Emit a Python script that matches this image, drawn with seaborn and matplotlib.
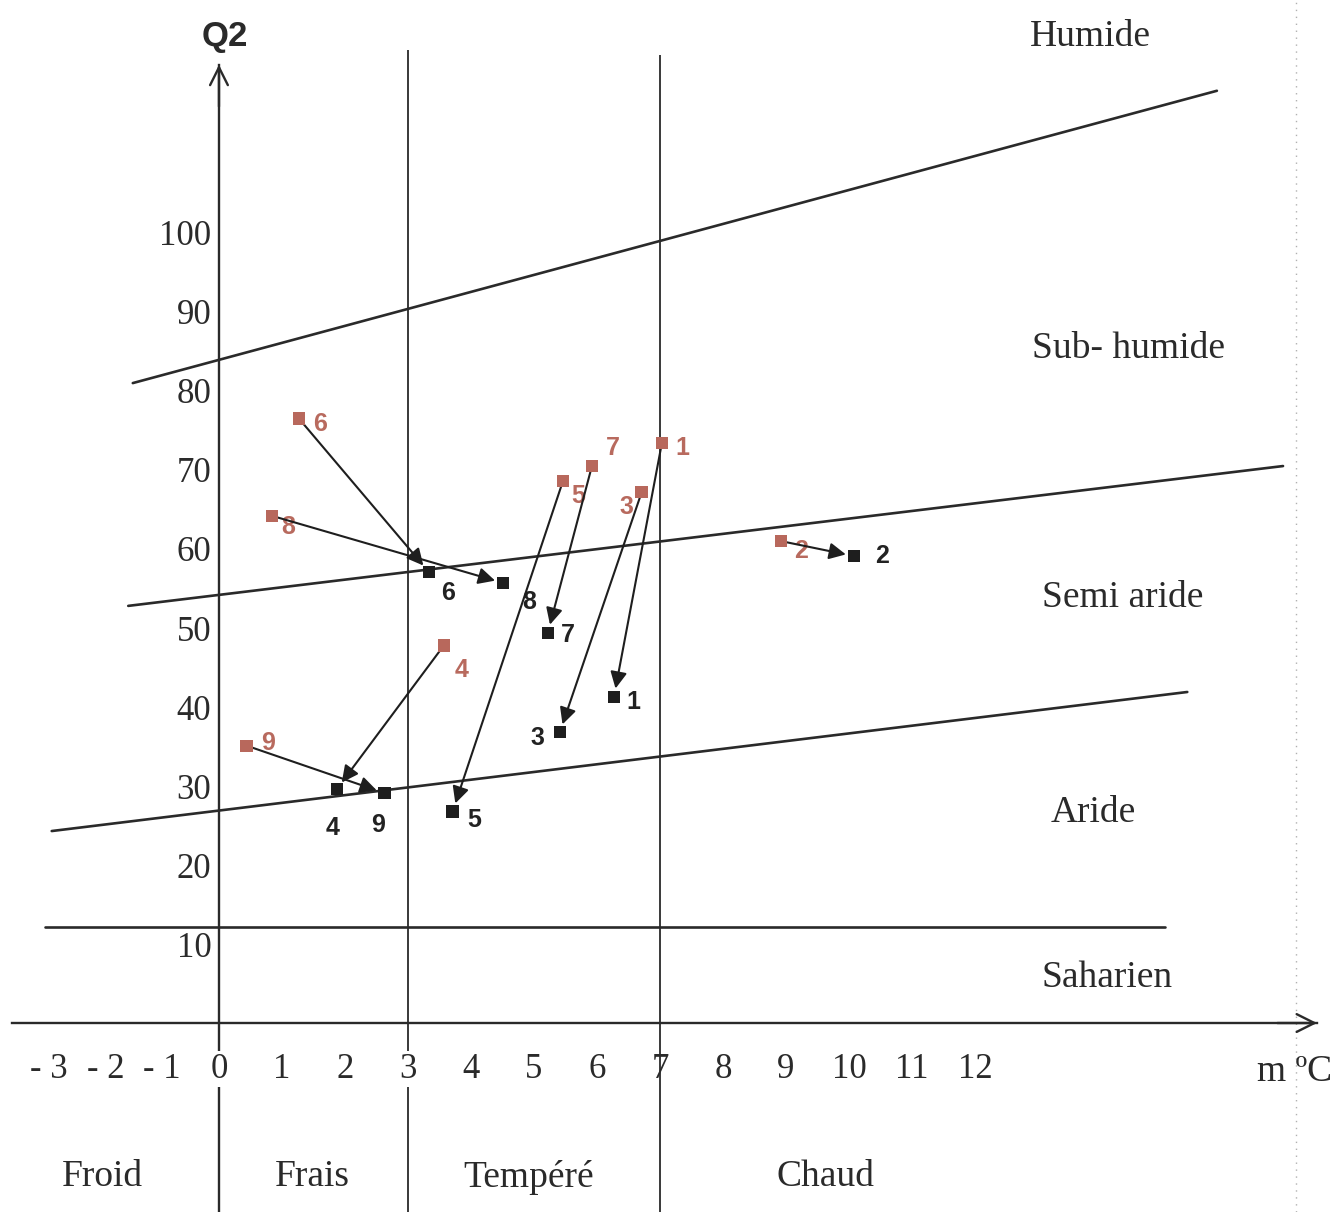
import numpy as np
import pandas as pd
import matplotlib
matplotlib.use("Agg")
import matplotlib.pyplot as plt
import seaborn as sns

# ---------------- data ----------------
stations = ["1", "2", "3", "4", "5", "6", "7", "8", "9"]
m_before = [7.03, 8.92, 6.71, 3.57, 5.46, 1.27, 5.92, 0.84, 0.44]
q2_before = [73.4, 61.0, 67.2, 47.8, 68.6, 76.5, 70.5, 64.2, 35.1]
m_after = [6.27, 10.08, 5.41, 1.87, 3.71, 3.33, 5.22, 4.51, 2.63]
q2_after = [41.3, 59.1, 36.8, 29.6, 26.8, 57.1, 49.4, 55.7, 29.1]

# bioclimatic limits (m, Q2 at both ends)
lim_humide_m = [-1.52, 15.84]
lim_humide_q = [81.0, 118.0]
lim_subhumide_m = [-1.60, 16.89]
lim_subhumide_q = [52.8, 70.5]
lim_semiaride_m = [-2.95, 15.37]
lim_semiaride_q = [24.3, 41.9]
lim_aride_m = [-3.07, 15.02]
lim_aride_q = [12.15, 12.15]

thermal_limits = [0, 3, 7]

x_ticks = [-3, -2, -1, 0, 1, 2, 3, 4, 5, 6, 7, 8, 9, 10, 11, 12]
x_tick_labels = ["- 3", "- 2", "- 1", "0", "1", "2", "3", "4", "5", "6",
                 "7", "8", "9", "10", "11", "12"]
y_ticks = [10, 20, 30, 40, 50, 60, 70, 80, 90, 100]
y_tick_labels = ["10", "20", "30", "40", "50", "60", "70", "80", "90", "100"]

zones = ["Humide", "Sub- humide", "Semi aride", "Aride", "Saharien"]
thermal_zones = ["Froid", "Frais", "Tempéré", "Chaud"]

# ---------------- layout (label offsets in pixels) ----------------
off_before = [(21, -5), (20, -10), (-15, -15), (18, -25), (15, -15),
              (21, -5), (21, 18), (16, -11), (21, 3)]
off_after = [(19, -5), (28, 0), (-22, -6), (-4, -39), (22, -9),
             (19, -21), (20, -2), (26, -19), (-7, -32)]

sns.set_theme(style="white")
plt.rcParams["font.family"] = ["Liberation Serif", "DejaVu Serif"]

ink = "#2a2a2a"
red = "#b8685c"

fig = plt.figure(figsize=(13.41, 12.12), dpi=100)
ax = fig.add_axes([0, 0, 1, 1])


def fwd(x):
    x = np.asarray(x, dtype=float)
    return np.where(x < 0, 0.9 * x, x)


def inv(x):
    x = np.asarray(x, dtype=float)
    return np.where(x < 0, x / 0.9, x)


ax.set_xscale("function", functions=(fwd, inv))
ax.set_xlim(-3.862, 17.81)
ax.set_ylim(-23.92, 129.49)
ax.set_facecolor("white")

# axes as spines through the origin
for s in ["top", "right"]:
    ax.spines[s].set_visible(False)
ax.spines["bottom"].set_position(("data", 0))
ax.spines["left"].set_position(("data", 0))
ax.spines["bottom"].set_bounds(-3.651, 17.43)
ax.spines["left"].set_bounds(-23.92, 121.3)
for s in ["bottom", "left"]:
    ax.spines[s].set_color(ink)
    ax.spines[s].set_linewidth(1.7)
    ax.spines[s].set_zorder(3)

ax.set_xticks(x_ticks)
ax.set_xticklabels(x_tick_labels)
ax.set_yticks(y_ticks)
ax.set_yticklabels(y_tick_labels)
ax.xaxis.set_minor_locator(matplotlib.ticker.NullLocator())
ax.yaxis.set_minor_locator(matplotlib.ticker.NullLocator())
ax.tick_params(axis="x", direction="inout", length=7, width=1.6, color=ink,
               pad=18, labelsize=25, labelcolor=ink)
ax.tick_params(axis="y", direction="inout", length=5, width=1.6, color=ink,
               pad=3, labelsize=25, labelcolor=ink)
ax.grid(False)
ax.xaxis.set_zorder(4)
ax.yaxis.set_zorder(4)
for i, t in enumerate(ax.get_xticklabels()):
    if x_ticks[i] in (0, 3):
        t.set_bbox(dict(facecolor="white", edgecolor="none", pad=1))

# arrow heads of axes
ax.annotate("", xy=(0, 121.3), xytext=(0, 116),
            arrowprops=dict(arrowstyle="->", color=ink, lw=1.7,
                            mutation_scale=32, shrinkA=0, shrinkB=0))
ax.annotate("", xy=(17.43, 0), xytext=(16.8, 0),
            arrowprops=dict(arrowstyle="->", color=ink, lw=1.7,
                            mutation_scale=32, shrinkA=0, shrinkB=0))

# thermal limits
ax.vlines(thermal_limits[1:], -23.92, [123.2, 122.5], color=ink, lw=1.3, zorder=2)

# bioclimatic limits
for mm, qq in [(lim_humide_m, lim_humide_q), (lim_subhumide_m, lim_subhumide_q),
               (lim_semiaride_m, lim_semiaride_q), (lim_aride_m, lim_aride_q)]:
    sns.lineplot(x=mm, y=qq, ax=ax, color=ink, lw=1.9, sort=False,
                 estimator=None, zorder=2)

# faint page edge of the scan
ax.axvline(17.1, color="#b0b0b0", ls=(0, (1, 4)), lw=1.0, zorder=1)

# arrows before -> after
for i in range(len(stations)):
    ax.annotate("", xy=(m_after[i], q2_after[i]), xytext=(m_before[i], q2_before[i]),
                arrowprops=dict(arrowstyle="-|>", color="#1e1e1e", lw=1.5,
                                mutation_scale=25, shrinkA=0, shrinkB=6),
                zorder=4)

df = pd.DataFrame({
    "station": stations * 2,
    "m": m_before + m_after,
    "Q2": q2_before + q2_after,
    "phase": ["avant"] * len(stations) + ["après"] * len(stations),
})
sns.scatterplot(data=df, x="m", y="Q2", hue="phase", marker="s", s=80,
                palette={"avant": red, "après": "#1e1e1e"},
                edgecolor="none", legend=False, ax=ax, zorder=5)
ax.set_xlabel("")
ax.set_ylabel("")

lab_font = dict(family=["Liberation Sans", "DejaVu Sans"], fontweight="bold",
                fontsize=18)
for i, st in enumerate(stations):
    ax.annotate(st, (m_before[i], q2_before[i]), xytext=off_before[i],
                textcoords="offset pixels", ha="center", va="center",
                color="#b86a5e", **lab_font)
    ax.annotate(st, (m_after[i], q2_after[i]), xytext=off_after[i],
                textcoords="offset pixels", ha="center", va="center",
                color="#222222", **lab_font)

# zone names
zfs = 27
ax.text(13.83, 124.8, zones[0], ha="center", va="center", fontsize=zfs, color=ink)
ax.text(14.43, 85.4, zones[1], ha="center", va="center", fontsize=zfs, color=ink)
ax.text(14.35, 53.8, zones[2], ha="center", va="center", fontsize=zfs, color=ink)
ax.text(13.87, 26.6, zones[3], ha="center", va="center", fontsize=zfs, color=ink)
ax.text(14.10, 5.7, zones[4], ha="center", va="center", fontsize=zfs, color=ink)

ax.text(-2.05, -19.5, thermal_zones[0], ha="center", va="center", fontsize=zfs, color=ink)
ax.text(1.48, -19.5, thermal_zones[1], ha="center", va="center", fontsize=zfs, color=ink)
ax.text(4.92, -19.5, thermal_zones[2], ha="center", va="center", fontsize=zfs, color=ink)
ax.text(9.63, -19.5, thermal_zones[3], ha="center", va="center", fontsize=zfs, color=ink)

ax.text(17.08, -6.2, "m ºC", ha="center", va="center", fontsize=zfs, color=ink)
ax.text(0.095, 124.9, "Q2", ha="center", va="center", fontsize=25,
        fontweight="bold", family=["Liberation Sans", "DejaVu Sans"], color=ink)

fig.savefig("out.png", dpi=100, facecolor="white")
